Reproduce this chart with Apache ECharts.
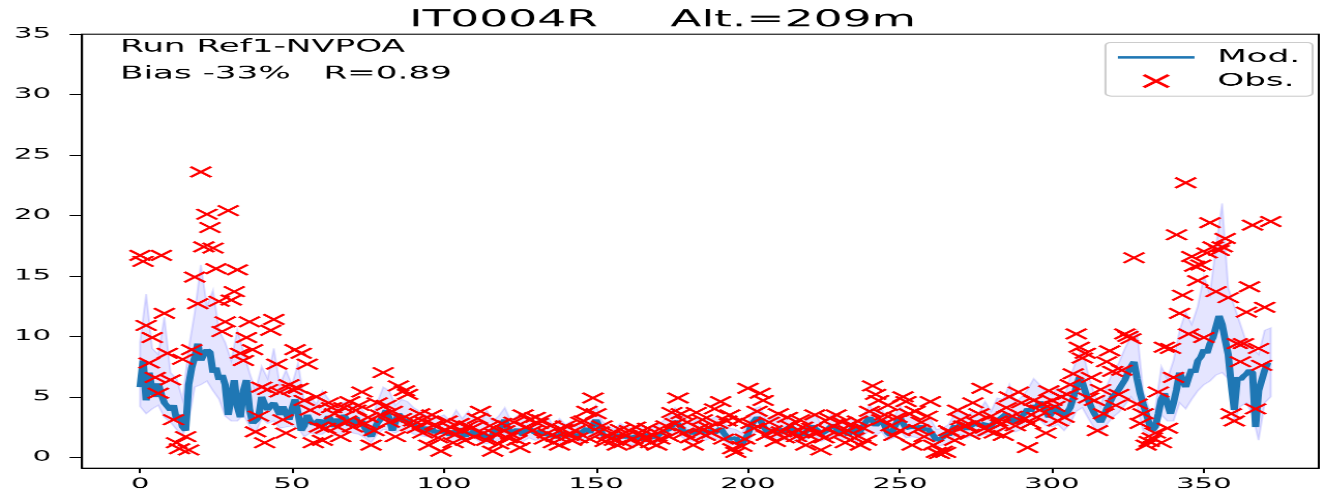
<!DOCTYPE html>
<html><head><meta charset="utf-8">
<script src="https://cdn.jsdelivr.net/npm/echarts@6/dist/echarts.min.js"></script>
<style>
html,body{margin:0;padding:0;background:#fff;overflow:hidden;}
#wrap{width:1325px;height:496px;overflow:hidden;position:relative;background:#fff;}
#chart{width:640px;height:480px;position:absolute;left:0;top:0;transform:scale(2.0703125,1.0333333);transform-origin:0 0;}
</style></head>
<body><div id="wrap"><div id="chart"></div></div>
<script>
const titleText = 'IT0004R     Alt.=209m';
const runText = 'Run Ref1-NVPOA';
const statText = 'Bias -33%   R=0.89';
const xTicks = [0, 50, 100, 150, 200, 250, 300, 350];
const yTicks = [0, 5, 10, 15, 20, 25, 30, 35];

// model, one value per day
const modVals = [
5.8,8.0,4.7,7.0,5.5,5.0,6.1,5.2,4.5,4.2,
3.9,4.3,3.1,3.5,2.5,2.2,6.0,7.4,8.3,9.4,
8.0,8.5,8.9,8.7,7.0,7.4,6.4,6.8,6.0,3.5,
5.0,6.4,4.2,3.3,5.5,6.4,4.0,2.8,3.0,3.3,
5.0,4.4,3.9,4.3,4.5,4.0,3.5,4.2,3.6,3.1,
4.0,4.8,3.6,2.2,2.6,3.5,3.0,2.7,2.9,3.1,
2.6,2.8,3.4,3.0,2.5,3.2,2.7,3.5,3.1,2.6,
2.9,3.3,2.7,3.0,2.4,2.0,1.7,2.3,2.8,3.1,
3.4,3.9,3.2,2.2,2.9,3.6,3.3,2.9,3.1,2.6,
2.8,2.3,2.6,2.2,2.5,2.1,2.4,2.0,2.2,2.0,
2.3,2.1,1.8,2.2,1.9,2.4,2.0,1.7,2.1,1.8,
2.3,2.0,1.7,2.0,1.6,1.4,1.9,2.4,2.1,2.7,
3.1,2.4,2.0,2.0,2.3,2.1,1.8,2.2,2.4,2.3,
2.0,1.9,2.2,1.8,2.0,1.7,1.9,1.6,1.8,2.1,
1.9,1.7,2.0,1.8,1.6,2.0,2.2,2.4,2.0,2.7,
3.1,2.6,2.0,1.7,1.6,1.8,1.5,1.7,1.9,1.6,
1.8,1.7,1.5,1.8,1.6,1.4,1.7,1.9,1.6,1.5,
1.7,1.9,2.1,2.0,2.3,2.6,3.0,3.1,2.5,2.0,
2.0,2.2,1.9,2.3,2.1,2.4,2.0,2.2,2.3,2.0,
2.2,2.4,2.0,1.7,1.5,1.4,1.6,1.3,1.1,1.2,
1.9,2.6,3.0,3.3,3.1,2.6,2.2,2.0,2.3,2.1,
2.4,2.2,2.0,2.4,2.6,2.1,1.8,2.0,1.8,2.1,
2.4,2.6,2.7,2.2,1.9,1.8,2.2,2.5,2.7,2.4,
2.0,1.9,2.2,1.8,2.3,2.6,1.8,2.2,2.6,3.0,
3.3,3.0,2.6,2.9,3.1,2.6,2.0,1.8,2.4,2.9,
3.3,2.8,2.4,2.3,2.5,2.6,2.4,2.6,2.2,2.4,
2.3,1.8,1.4,1.3,1.6,2.0,1.8,2.2,2.6,2.4,
2.8,2.6,2.3,2.5,2.7,3.0,2.6,2.5,2.8,2.4,
2.6,2.9,2.8,3.2,3.4,3.6,3.3,2.8,3.2,2.8,
3.4,3.6,4.0,3.8,4.3,4.1,4.6,4.7,3.9,3.3,
3.7,4.3,4.0,3.6,3.3,3.7,4.1,4.9,5.8,6.6,
6.2,5.4,4.7,4.1,3.6,3.2,2.9,3.4,4.0,4.5,
5.0,5.3,5.6,6.0,6.4,7.0,7.5,7.9,6.5,5.3,
4.4,3.6,2.8,2.2,2.5,3.6,4.8,5.3,4.4,3.6,
4.5,5.6,7.0,6.4,5.8,6.6,7.3,7.0,8.0,8.3,
8.9,8.6,9.4,9.9,10.8,11.7,11.0,9.7,8.5,6.0,
3.9,6.6,6.4,6.7,6.9,7.2,7.0,2.5,5.5,5.6,
7.2,7.8
];

// observations, one value per day (null = missing)
const obsVals = [
16.7,16.2,10.9,7.8,9.9,6.6,5.3,16.7,11.9,8.6,
6.4,3.1,1.2,0.7,8.1,1.7,0.6,8.9,14.9,12.7,
23.6,17.4,20.1,19.0,17.3,15.6,12.9,10.4,11.2,20.4,
13.0,13.7,15.5,8.6,8.0,9.9,11.2,8.9,2.1,3.4,
5.8,1.2,5.6,10.5,11.4,7.7,5.4,3.1,2.0,6.0,
5.6,8.9,5.7,8.6,4.7,7.7,3.9,1.2,5.0,2.5,
1.4,2.4,4.5,4.1,3.6,2.5,1.7,4.1,3.0,4.6,
2.5,3.9,4.3,5.4,2.8,3.3,1.0,2.2,4.5,3.5,
7.0,4.3,2.9,3.8,1.7,5.9,3.2,5.5,5.2,2.6,
3.0,2.4,3.6,2.0,2.9,1.0,3.5,2.7,1.6,0.5,
2.2,3.0,2.5,1.2,1.9,2.8,2.2,1.4,2.6,2.4,
1.7,3.2,3.8,2.0,1.4,2.6,0.5,1.9,1.1,2.8,
2.2,1.6,1.9,2.9,1.4,0.8,3.5,2.5,3.1,2.2,
3.3,2.8,3.1,1.5,2.0,2.6,1.2,1.7,1.0,2.3,
2.6,1.8,1.4,2.2,1.6,2.9,3.0,3.8,1.5,4.9,
3.6,2.1,2.6,1.3,1.7,2.0,1.4,1.0,2.3,1.2,
1.8,2.2,1.5,2.5,1.1,1.9,1.6,2.4,1.2,1.8,
1.0,1.5,2.2,2.6,1.7,3.7,2.8,4.9,3.6,2.0,
2.9,1.6,1.0,3.7,2.4,3.1,1.8,2.5,2.0,4.0,
2.8,4.6,1.5,3.0,3.5,0.7,0.4,3.0,0.9,1.5,
5.7,2.8,2.4,3.8,5.3,4.7,1.8,2.9,2.2,1.3,
3.6,2.1,1.6,3.3,2.6,2.0,1.7,3.1,2.5,1.0,
1.8,2.4,3.5,2.0,0.6,1.6,2.3,3.2,2.6,3.5,
1.9,2.9,1.2,2.2,2.7,1.6,3.0,1.0,2.4,1.4,
3.8,5.9,5.2,4.7,3.1,3.5,4.3,2.6,1.8,3.3,
2.2,5.0,4.6,3.6,1.0,3.8,2.3,2.9,1.7,3.4,
4.6,1.0,0.4,0.3,0.5,0.4,2.2,2.0,1.4,3.9,
3.1,2.6,2.6,1.9,4.5,2.9,3.6,5.7,2.4,2.2,
3.4,2.0,3.0,2.7,1.8,4.1,5.0,3.4,2.6,5.4,
4.5,3.2,0.8,2.8,4.7,3.3,3.9,4.4,2.0,5.5,
4.7,4.2,3.0,5.0,3.3,5.2,6.0,6.9,10.2,9.1,
8.2,8.6,4.9,6.6,4.7,2.2,5.6,3.6,7.9,8.8,
7.1,4.3,5.2,7.2,10.2,10.0,9.8,16.5,4.4,2.8,
3.6,1.0,1.3,1.6,2.0,5.4,1.2,9.1,2.4,9.0,
6.6,18.4,11.9,13.4,22.7,10.2,16.6,15.8,14.6,15.9,
9.9,16.9,19.4,17.4,13.7,17.1,17.4,18.1,13.2,3.6,
3.0,9.4,7.9,9.4,12.0,14.1,19.2,4.0,9.0,7.6,
12.4,null,19.5
];

// model spread band, every second day
const bandLo = [
4.2,3.6,4.0,4.3,3.3,2.9,2.3,1.8,3.0,5.8,
6.0,6.3,5.5,4.8,3.4,3.0,3.0,3.5,2.6,2.0,
3.2,2.8,3.0,2.4,2.5,2.6,2.4,1.7,2.0,1.9,
1.9,2.3,1.8,1.9,2.2,2.0,1.9,1.6,1.2,1.9,
2.3,2.2,2.0,2.3,2.2,1.9,1.8,1.7,1.7,1.5,
1.6,1.2,1.3,1.4,1.4,1.6,1.2,1.1,1.3,1.4,
2.0,1.4,1.6,1.3,1.6,1.4,1.5,1.4,1.3,1.2,
1.3,1.4,1.1,1.5,1.4,2.0,1.4,1.1,1.0,1.3,
1.2,1.0,1.1,1.2,1.1,1.2,1.4,1.6,2.0,1.7,
1.4,1.3,1.4,1.4,1.6,1.5,1.4,1.0,1.0,0.7,
1.2,2.0,2.1,1.5,1.6,1.6,1.4,1.7,1.2,1.2,
1.6,1.8,1.3,1.5,1.8,1.4,1.5,1.6,1.2,1.8,
2.2,1.8,2.1,1.4,1.6,2.2,1.6,1.7,1.6,1.5,
1.5,0.9,1.0,1.2,1.7,1.9,1.6,1.8,1.7,1.9,
1.8,1.9,2.3,2.2,2.1,2.3,2.7,2.9,3.1,2.6,
2.5,2.7,2.2,2.8,3.8,4.1,3.2,2.4,2.0,2.7,
3.3,3.7,4.3,5.0,4.3,2.2,1.9,1.7,3.5,3.0,
3.0,4.5,4.0,4.8,5.5,6.0,6.3,6.8,7.0,6.5,
3.0,4.2,4.5,3.5,1.4,4.5,5.0
];
const bandHi = [
9.5,13.5,9.0,8.5,11.6,7.0,6.5,4.8,9.0,12.0,
15.9,12.5,13.8,10.5,9.5,8.0,10.5,8.8,7.0,5.5,
7.5,6.5,9.0,6.0,7.2,6.0,7.8,4.6,5.0,4.4,
5.5,4.8,4.0,4.5,4.6,4.2,4.4,3.6,3.0,4.5,
5.8,5.5,4.3,4.8,4.6,4.1,3.8,3.5,3.4,3.3,
3.5,3.0,3.9,3.2,3.8,3.1,2.8,3.9,3.0,3.4,
4.1,3.0,3.4,3.5,3.3,2.8,3.1,3.4,2.6,3.2,
2.7,3.0,2.5,3.1,3.3,4.3,3.0,2.6,2.3,2.8,
2.5,2.4,2.7,2.5,2.4,2.6,3.0,3.4,4.1,3.6,
3.0,2.9,3.3,3.1,3.2,3.4,2.9,2.4,2.3,2.0,
2.9,4.0,4.2,3.1,3.2,3.4,2.9,3.5,2.7,2.6,
3.3,3.6,2.8,3.1,3.7,2.9,3.0,3.2,2.8,3.5,
4.3,3.6,4.0,3.0,3.3,4.3,3.4,3.4,3.2,3.1,
3.2,2.3,2.4,2.7,3.6,3.8,3.4,3.8,3.7,4.6,
3.8,4.9,4.8,6.0,4.5,5.0,5.6,6.5,6.0,5.4,
5.2,5.8,4.9,6.6,8.0,9.0,6.8,5.2,4.2,5.9,
7.0,7.8,9.0,10.0,10.5,5.5,4.0,4.0,7.5,6.5,
8.0,10.5,12.0,11.0,12.5,15.0,13.5,17.5,21.0,14.0,
12.5,11.0,9.5,9.0,8.5,10.5,10.7
];

const FONT = 'DejaVu Sans';
const xMark = 'path://M0,0L10,10M10,0L0,10';
const lineIcon = 'path://M0,0L37,0L37,2.4L0,2.4Z';

const modData = modVals.map((v, i) => [i, v]);
const obsData = [];
obsVals.forEach((v, i) => { if (v !== null) obsData.push([i, v]); });

const chart = echarts.init(document.getElementById('chart'), null, {renderer: 'canvas', devicePixelRatio: 2});
chart.setOption({
  animation: false,
  backgroundColor: '#fff',
  title: {
    text: titleText, left: 'center', top: 4,
    textStyle: {fontFamily: FONT, fontSize: 22, fontWeight: 'normal', color: '#000'}
  },
  graphic: [
    {type: 'text', left: 58, top: 37, silent: true, z: 10,
     style: {text: runText, font: '16.5px "DejaVu Sans"', fill: '#000'}},
    {type: 'text', left: 58, top: 63, silent: true, z: 10,
     style: {text: statText, font: '16.5px "DejaVu Sans"', fill: '#000'}}
  ],
  legend: {
    show: true, orient: 'vertical', right: 6, top: 41,
    padding: [6, 6, 6, 6], itemGap: 6, itemWidth: 37, itemHeight: 12,
    backgroundColor: 'rgba(255,255,255,0.8)', borderColor: '#cccccc', borderWidth: 1, borderRadius: 3,
    textStyle: {fontFamily: FONT, fontSize: 16.5, color: '#000', padding: [0, 0, 0, 6]},
    data: [
      {name: 'Mod.', icon: lineIcon, itemStyle: {color: '#1f77b4', borderWidth: 0}},
      {name: 'Obs.'}
    ]
  },
  grid: {left: 39.6, right: 3, top: 33, bottom: 27, show: true, borderColor: '#000', borderWidth: 1, backgroundColor: 'rgba(0,0,0,0)'},
  xAxis: {
    type: 'value', min: -19.1, max: 387.8,
    axisLine: {show: true, onZero: false, lineStyle: {color: '#000', width: 1}},
    axisTick: {show: true, length: 5, lineStyle: {color: '#000'}, customValues: xTicks},
    axisLabel: {fontFamily: FONT, fontSize: 14, color: '#000', margin: 9, customValues: xTicks},
    splitLine: {show: false}
  },
  yAxis: {
    type: 'value', min: -0.9, max: 35,
    axisLine: {show: true, onZero: false, lineStyle: {color: '#000', width: 1}},
    axisTick: {show: true, length: 6, lineStyle: {color: '#000'}, customValues: yTicks},
    axisLabel: {fontFamily: FONT, fontSize: 14, color: '#000', margin: 15, customValues: yTicks},
    splitLine: {show: false}
  },
  series: [
    {
      type: 'custom', name: 'band', silent: true, z: 1,
      data: [[0, 0]],
      renderItem: function (params, api) {
        const pts = [];
        for (let i = 0; i < bandHi.length; i++) pts.push(api.coord([i * 2, bandHi[i]]));
        for (let i = bandLo.length - 1; i >= 0; i--) pts.push(api.coord([i * 2, bandLo[i]]));
        return {type: 'polygon', shape: {points: pts},
          style: {fill: 'rgba(0,0,255,0.1)', stroke: 'rgba(0,0,255,0.12)', lineWidth: 1}};
      }
    },
    {
      type: 'line', name: 'Mod.', data: modData, symbol: 'none', z: 2,
      lineStyle: {color: '#1f77b4', width: 3.5},
      itemStyle: {color: '#1f77b4'}
    },
    {
      type: 'scatter', name: 'Obs.', data: obsData, z: 3,
      symbol: xMark, symbolSize: 10,
      itemStyle: {color: 'rgba(255,0,0,0)', borderColor: '#ff0000', borderWidth: 1.7, opacity: 1}
    }
  ]
});
</script>
</body></html>
